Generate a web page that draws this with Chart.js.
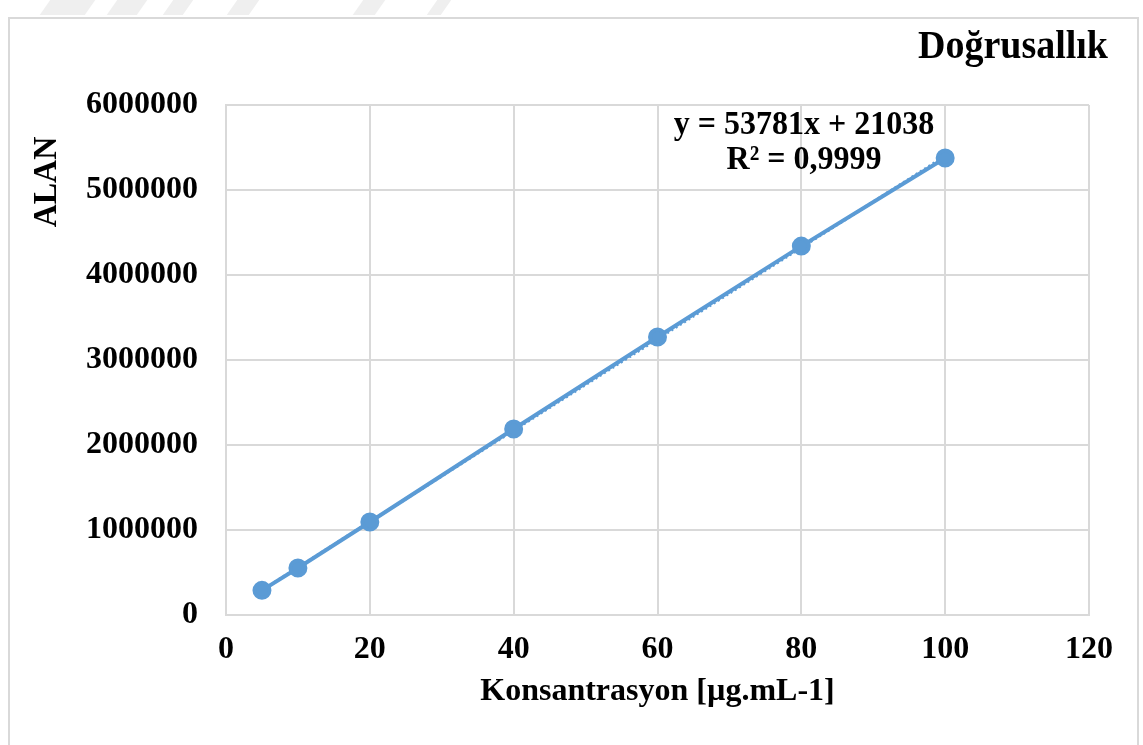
<!DOCTYPE html>
<html>
<head>
<meta charset="utf-8">
<script src="https://cdn.jsdelivr.net/npm/chart.js@4.4.1/dist/chart.umd.min.js"></script>
<style>
  html, body { margin: 0; padding: 0; background: #fff; overflow: hidden; }
  #frame {
    position: absolute; left: 8px; top: 17px; width: 1131px; height: 740px;
    border: 2px solid #d9d9d9; box-sizing: border-box;
  }
  .wm { position: absolute; top: 0; height: 15px; background: #efefef; transform: skewX(-35deg); }
  #wrap { position: absolute; left: 0; top: 0; width: 1143px; height: 745px; }
</style>
</head>
<body>
<div class="wm" style="left:45px;width:45px"></div>
<div class="wm" style="left:112px;width:30px"></div>
<div class="wm" style="left:168px;width:20px"></div>
<div class="wm" style="left:232px;width:22px"></div>
<div class="wm" style="left:358px;width:22px"></div>
<div class="wm" style="left:432px;width:14px"></div>
<div id="frame"></div>
<div id="wrap"><canvas id="grafik" width="1143" height="745"></canvas></div>
<script>
// veriler
const konsantrasyon = [5, 10, 20, 40, 60, 80, 100];
const alan = [290000, 553000, 1094000, 2188000, 3270000, 4340000, 5376000];
const trendX = [5, 100];
const trendY = [290000, 5399000];
const baslik = 'Doğrusallık';
const yEkseni = 'ALAN';
const denklem = ['y = 53781x + 21038', 'R² = 0,9999'];

const mavi = '#5b9bd5';
const izgara = '#d9d9d9';
const aile = '"Liberation Serif", "Times New Roman", serif';

// Excel gorunumu icin biraz uzatilmis yazi
function uzunYaz(c, text, x, y, boy) {
    c.save();
    c.translate(x, y);
    c.scale(1, boy);
    c.fillText(text, 0, 0);
    c.restore();
}

const metinler = {
    id: 'metinler',
    afterDraw(chart) {
        const c = chart.ctx;
        c.save();
        c.fillStyle = '#000';
        c.textBaseline = 'middle';
        c.font = 'bold 38px ' + aile;
        c.textAlign = 'right';
        uzunYaz(c, baslik, 1108, 47, 1.08);
        c.font = 'bold 32px ' + aile;
        c.textAlign = 'center';
        uzunYaz(c, denklem[0], 804, 125, 1.08);
        uzunYaz(c, denklem[1], 804, 160, 1.08);
        c.save();
        c.translate(47, 182);
        c.rotate(-Math.PI / 2);
        c.scale(1, 1.08);
        c.fillText(yEkseni, 0, 0);
        c.restore();
        c.restore();
    }
};

const ctx = document.getElementById('grafik').getContext('2d');
const grafik = new Chart(ctx, {
    type: 'scatter',
    data: {
        datasets: [{
            label: 'ALAN',
            data: konsantrasyon.map((x, i) => ({ x: x, y: alan[i] })),
            showLine: true,
            borderColor: mavi,
            backgroundColor: mavi,
            borderWidth: 4,
            pointRadius: 7.5,
            pointHoverRadius: 7.5,
            order: 1
        }, {
            label: 'Doğrusal',
            data: trendX.map((x, i) => ({ x: x, y: trendY[i] })),
            showLine: true,
            borderColor: mavi,
            borderWidth: 3,
            borderDash: [2, 3],
            pointRadius: 0,
            order: 2
        }]
    },
    options: {
        responsive: false,
        animation: false,
        layout: { padding: { left: 10, top: 105, right: 54, bottom: 0 } },
        plugins: {
            legend: { display: false },
            tooltip: { enabled: false },
            title: { display: false }
        },
        scales: {
            x: {
                type: 'linear',
                min: 0,
                max: 120,
                ticks: { stepSize: 20, padding: 16, color: '#000', font: { family: aile, size: 32, weight: 'bold' } },
                grid: { color: izgara, lineWidth: 2, drawTicks: false },
                border: { color: izgara, width: 2 },
                title: {
                    display: true,
                    text: 'Konsantrasyon [µg.mL-1]',
                    color: '#000',
                    font: { family: aile, size: 32, weight: 'bold' },
                    padding: { top: 0, bottom: 34 }
                },
                afterFit(scale) { scale.height = 130; }
            },
            y: {
                min: 0,
                max: 6000000,
                ticks: {
                    stepSize: 1000000,
                    padding: 28,
                    color: '#000',
                    font: { family: aile, size: 32, weight: 'bold' },
                    callback: v => String(v)
                },
                grid: { color: izgara, lineWidth: 2, drawTicks: false },
                border: { color: izgara, width: 2 },
                afterFit(scale) { scale.width = 216; }
            }
        }
    },
    plugins: [metinler]
});
</script>
</body>
</html>
